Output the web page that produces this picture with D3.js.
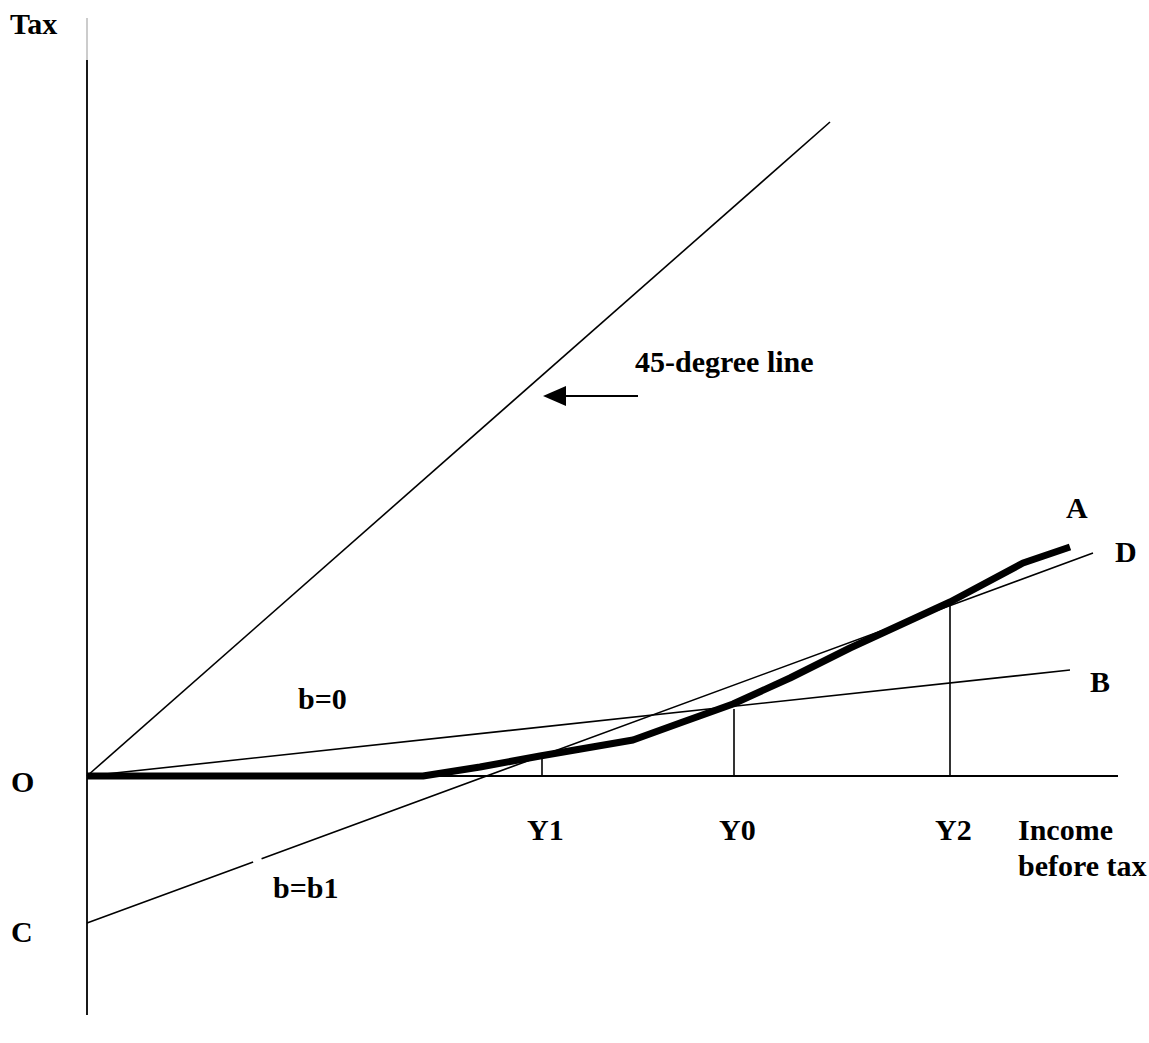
<!DOCTYPE html>
<html><head><meta charset="utf-8">
<script src="https://cdn.jsdelivr.net/npm/d3@7/dist/d3.min.js"></script>
<style>html,body{margin:0;padding:0;background:#fff;}svg text{font-family:"Liberation Serif","Times New Roman",serif;font-weight:bold;font-size:30px;fill:#000;}</style>
</head><body>
<script>
// Data (income units, tax units)
const line45 = [[0,0],[74.3,65.4]];
const lineD  = [[0,-14.7],[100.6,22.3]];
const lineB  = [[0,0],[98.3,10.6]];
const curveA = [[0,0],[33.6,0],[39.3,0.9],[45.3,2.0],[54.6,3.6],[59.3,5.3],[64.6,7.2],[70.3,9.8],[76.3,12.8],[81.3,15.1],[86.3,17.4],[93.6,21.3],[98.3,22.9]];
const incomeTicks = ["Y1","Y0","Y2"];
const incomeTickX = [45.5,64.7,86.3];
const incomeTickTop = [1.7,6.7,17.1];
const xAxisExtent = [0,103.1];
const yAxisExtent = [-23.9,71.6];
const yAxisFaint = [71.6,75.8];
const arrow45 = [[55.1,38.0],[45.6,38.0]];

const W=1149,H=1043;
const svg=d3.select("body").append("svg").attr("width",W).attr("height",H);
const x=d3.scaleLinear().domain([0,100]).range([87,1087]);
const y=d3.scaleLinear().domain([0,100]).range([776,-224]);
const line=d3.line().x(d=>x(d[0])).y(d=>y(d[1]));

// axes
svg.append("line").attr("x1",x(0)).attr("x2",x(0)).attr("y1",y(yAxisFaint[0])).attr("y2",y(yAxisFaint[1])).attr("stroke","#999").attr("stroke-width",1);
svg.append("line").attr("x1",x(0)).attr("x2",x(0)).attr("y1",y(yAxisExtent[0])).attr("y2",y(yAxisExtent[1])).attr("stroke","#000").attr("stroke-width",1.8);
svg.append("line").attr("x1",x(xAxisExtent[0])).attr("x2",x(xAxisExtent[1])).attr("y1",y(0)).attr("y2",y(0)).attr("stroke","#000").attr("stroke-width",1.8);

// thin lines
svg.append("path").attr("d",line(line45)).attr("fill","none").attr("stroke","#000").attr("stroke-width",1.6);
svg.append("path").attr("d",line(lineB)).attr("fill","none").attr("stroke","#000").attr("stroke-width",1.6);
svg.append("path").attr("d",line(lineD)).attr("fill","none").attr("stroke","#000").attr("stroke-width",1.6).attr("stroke-dasharray","177,9,2000");

// tick verticals
incomeTicks.forEach((t,i)=>{
  svg.append("line").attr("x1",x(incomeTickX[i])).attr("x2",x(incomeTickX[i])).attr("y1",y(0)).attr("y2",y(incomeTickTop[i])).attr("stroke","#000").attr("stroke-width",1.6);
});

// thick curve
svg.append("path").attr("d",line(curveA)).attr("fill","none").attr("stroke","#000").attr("stroke-width",7).attr("stroke-linejoin","round");

// arrow
svg.append("line").attr("x1",x(arrow45[0][0])).attr("x2",x(arrow45[1][0])+20).attr("y1",y(arrow45[0][1])).attr("y2",y(arrow45[1][1])).attr("stroke","#000").attr("stroke-width",2);
const tx=x(arrow45[1][0]),ty=y(arrow45[1][1]);
svg.append("path").attr("d",`M${tx},${ty}L${tx+23},${ty-10}L${tx+23},${ty+10}Z`).attr("fill","#000");

// labels
const T=(s,px,py)=>svg.append("text").attr("x",px).attr("y",py).text(s);
T("Tax",10,34);
T("45-degree line",635,372);
T("A",1066,518);
T("D",1115,562);
T("B",1090,692);
T("b=0",298,709);
T("O",11,792);
T("C",11,942);
T("b=b1",273,898);
incomeTicks.forEach((t,i)=>T(t,x(incomeTickX[i])-15,840));
T("Income",1018,840);
T("before tax",1018,876);
</script>
</body></html>
